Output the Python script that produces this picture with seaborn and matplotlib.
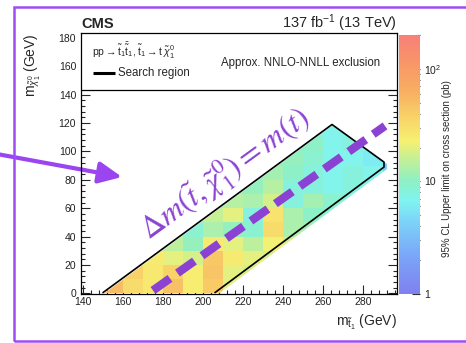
import numpy as np
import matplotlib
matplotlib.use("Agg")
import matplotlib.pyplot as plt
import seaborn as sns
import pandas as pd
from matplotlib.colors import LinearSegmentedColormap, LogNorm
from matplotlib.patches import Polygon, Rectangle
from matplotlib.ticker import MultipleLocator, FixedLocator, NullFormatter

# ---------------- data ----------------
# neutralino mass bin centres (GeV) and mass-splitting columns dm = m(stop) - m(chi)
mchi_centers = [5, 15, 25, 35, 45, 55, 65, 75, 85, 95, 105, 115, 125]
dm_centers = [140, 150, 160, 170, 180, 190, 200, 210]
# 95% CL upper limit on the cross section (pb), one row per neutralino mass bin
limit_pb = [
    [45, 52, 32, 26, 48, 24, 42, 20],
    [40, 38, 26, 36, 24, 46, 20, 18],
    [30, 25, 20, 18, 44, 25, 20, 18],
    [18, 15, 11, 25, 20, 15, 22, 18],
    [12, 9, 13, 11, 9, 32, 13, 12],
    [14, 16, 20, 8, 28, 13, 10, 9],
    [12, 14, 13, 18, 8, 12, 9, 8],
    [11, 11, 14, 8, 8, 7, 8, 7],
    [11, 12, 10, 8, 7, 8, 7, 4],
    [10, 11, 9, 7, 7, 6, 4, 4],
    [10, 10, 7, 8, 7, 5, 4, 4],
    [8, 7, 7, 7, 6, 5, 4, 4],
    [7, 7, 7, 6, 6, 5, 4, 4],
]
bin_width = 10

# search region outline
region_mstop = [150, 264.5, 290.5, 290.5, 206]
region_mchi = [0.5, 119, 92.5, 89, 0.5]

# dm = m(top) diagonal
top_mass = 173
dm_line_mstop = [175, 291]

# axis ticks
x_ticks = [140, 160, 180, 200, 220, 240, 260, 280]
y_ticks = [0, 20, 40, 60, 80, 100, 120, 140, 160, 180]
cb_ticks = [1, 10, 100]
cb_ticklabels = ["1", "10", r"10$^{2}$"]

# ---------------- style ----------------
sns.set_style("ticks")
plt.rcParams["font.family"] = ["Liberation Sans", "DejaVu Sans"]
plt.rcParams["mathtext.fontset"] = "custom"
plt.rcParams["mathtext.rm"] = "Liberation Sans"
plt.rcParams["mathtext.it"] = "Liberation Sans:italic"
plt.rcParams["mathtext.bf"] = "Liberation Sans:bold"

purple_frame = "#a04cf5"
purple_mark = "#8b42d2"

cmap = LinearSegmentedColormap.from_list("limit", [
    (0.00, "#8080f0"),
    (0.14, "#7aa4f8"),
    (0.28, "#7cd4f8"),
    (0.36, "#80f4f0"),
    (0.44, "#8ef0c4"),
    (0.52, "#c4f096"),
    (0.59, "#f6f072"),
    (0.68, "#f8d468"),
    (0.78, "#f8b062"),
    (0.90, "#f89468"),
    (1.00, "#f88078"),
])
norm = LogNorm(vmin=1, vmax=200)

# ---------------- build grid in (mstop, mchi) ----------------
long = []
for mchi, row in zip(mchi_centers, limit_pb):
    for dm, val in zip(dm_centers, row):
        long.append({"mstop": mchi + dm, "mchi": mchi, "limit": val})
df = pd.DataFrame(long)
x_centers = np.arange(145, 300, bin_width)
y_centers = np.array(mchi_centers)
grid = (df.pivot_table(index="mchi", columns="mstop", values="limit")
          .reindex(index=y_centers, columns=x_centers))
x_edges = np.append(x_centers - bin_width / 2, x_centers[-1] + bin_width / 2)
y_edges = np.append(y_centers - bin_width / 2, y_centers[-1] + bin_width / 2)

# ---------------- figure ----------------
fig = plt.figure(figsize=(4.66, 3.43), dpi=100)
W, H = 466, 343
ax = fig.add_axes([81 / W, 49 / H, 316 / W, 261 / H])
ymin, ymax = -0.5, 183.5
legend_floor = 143

mesh = ax.pcolormesh(x_edges, y_edges, np.ma.masked_invalid(grid.values),
                     cmap=cmap, norm=norm, zorder=1, shading="flat")
# clip the map to a slightly enlarged search region
rx, ry = np.array(region_mstop), np.array(region_mchi)
cx, cy = rx.mean(), ry.mean()
clip_xy = np.column_stack([cx + (rx - cx) * 1.03, cy + (ry - cy) * 1.03 - 2])
clip = Polygon(clip_xy, closed=True, transform=ax.transData, fill=False, lw=0)
ax.add_patch(clip)
mesh.set_clip_path(clip)

# search region outline
outline = pd.DataFrame({"mstop": region_mstop, "mchi": region_mchi})
sns.lineplot(data=outline, x="mstop", y="mchi", sort=False, estimator=None,
             color="black", lw=1.2, ax=ax, zorder=4)

# legend panel above the map
floor_frac = (legend_floor - ymin) / (ymax - ymin)
ax.add_patch(Rectangle((0, floor_frac), 1, 1 - floor_frac, transform=ax.transAxes,
                       facecolor="white", edgecolor="none", zorder=2.2))
ax.axhline(legend_floor, color="black", lw=0.9, zorder=2.3)
ax.text(0.036, 0.93, r"pp$\rightarrow\tilde{\mathrm{t}}_1\bar{\tilde{\mathrm{t}}}_1$, $\tilde{\mathrm{t}}_1\rightarrow\mathrm{t}\,\tilde{\chi}^0_1$",
        transform=ax.transAxes, fontsize=7.5, va="center", ha="left", zorder=3)
ax.plot([0.038, 0.108], [0.845, 0.845], transform=ax.transAxes, color="black",
        lw=2.2, solid_capstyle="butt", zorder=3)
ax.text(0.117, 0.845, "Search region", transform=ax.transAxes, fontsize=8.3,
        va="center", ha="left", zorder=3)
ax.text(0.948, 0.885, "Approx. NNLO-NNLL exclusion", transform=ax.transAxes,
        fontsize=8.3, va="center", ha="right", zorder=3)

# dm = m(t) diagonal and its label
dm_x = np.array(dm_line_mstop, dtype=float)
ax.plot(dm_x, dm_x - top_mass, color=purple_mark, lw=6, dashes=(2.5, 1.1),
        solid_capstyle="butt", dash_capstyle="butt", zorder=6)
ax.text(211, 84, r"$\Delta m(\tilde{t},\tilde{\chi}_1^0) = m(t)$",
        math_fontfamily="stix", fontsize=23, color=purple_mark,
        rotation=36, ha="center", va="center", zorder=7)

# arrow pointing into the map
ax.annotate("", xy=(159.5, 82), xycoords="data",
            xytext=(-0.26, 0.535), textcoords="axes fraction",
            arrowprops=dict(arrowstyle="-|>,head_length=1.4,head_width=0.65",
                            color="#9a45f0", lw=3, shrinkA=0, shrinkB=0),
            annotation_clip=False, zorder=8)

# axes
ax.set_xlim(139, 297)
ax.set_ylim(ymin, ymax)
ax.xaxis.set_major_locator(FixedLocator(x_ticks))
ax.yaxis.set_major_locator(FixedLocator(y_ticks))
ax.xaxis.set_minor_locator(MultipleLocator(4))
ax.yaxis.set_minor_locator(MultipleLocator(4))
ax.tick_params(which="both", direction="in", top=True, right=True,
               labelsize=7.5, labelcolor="#222222", width=0.8)
ax.tick_params(axis="x", pad=2.5)
ax.tick_params(axis="y", pad=3.5)
ax.tick_params(which="major", length=6.5)
ax.tick_params(which="minor", length=3.2)
for s in ax.spines.values():
    s.set_linewidth(0.9)
    s.set_color("black")
    s.set_zorder(9)
ax.set_xlabel("")
ax.set_ylabel("")

ax.text(1.0, -0.108, r"m$_{\tilde{\mathrm{t}}_1}$ (GeV)", transform=ax.transAxes,
        fontsize=10, ha="right", va="center")
ax.text(-0.152, 1.0, r"m$_{\tilde{\chi}^0_1}$ (GeV)", transform=ax.transAxes,
        fontsize=10, ha="center", va="top", rotation=90)
ax.text(0.0, 1.02, "CMS", transform=ax.transAxes, fontsize=10.5,
        fontweight="bold", ha="left", va="baseline")
ax.text(1.0, 1.02, r"137 fb$^{-1}$ (13 TeV)", transform=ax.transAxes,
        fontsize=10.5, ha="right", va="baseline")

# colour bar
cax = fig.add_axes([399 / W, 49 / H, 21 / W, 259 / H])
cb = fig.colorbar(mesh, cax=cax)
cb.outline.set_visible(False)
cb.set_ticks(cb_ticks)
cb.set_ticklabels(cb_ticklabels)
cax.yaxis.set_minor_formatter(NullFormatter())
cax.tick_params(which="both", direction="in", right=True, left=False,
                labelsize=7.5, labelcolor="#222222", width=0.8, pad=3,
                color="#333333")
cax.tick_params(which="major", length=6)
cax.tick_params(which="minor", length=3.5)
cax.text(2.29, 0.483, "95% CL Upper limit on cross section (pb)",
         transform=cax.transAxes, rotation=90, fontsize=7, ha="center",
         va="center")

# slide frame
fig.add_artist(Rectangle((14 / W, 2 / H), 1.0, 334 / H, transform=fig.transFigure,
                         fill=False, edgecolor=purple_frame, lw=1.8))

fig.savefig("out.png", dpi=100, facecolor="white")
